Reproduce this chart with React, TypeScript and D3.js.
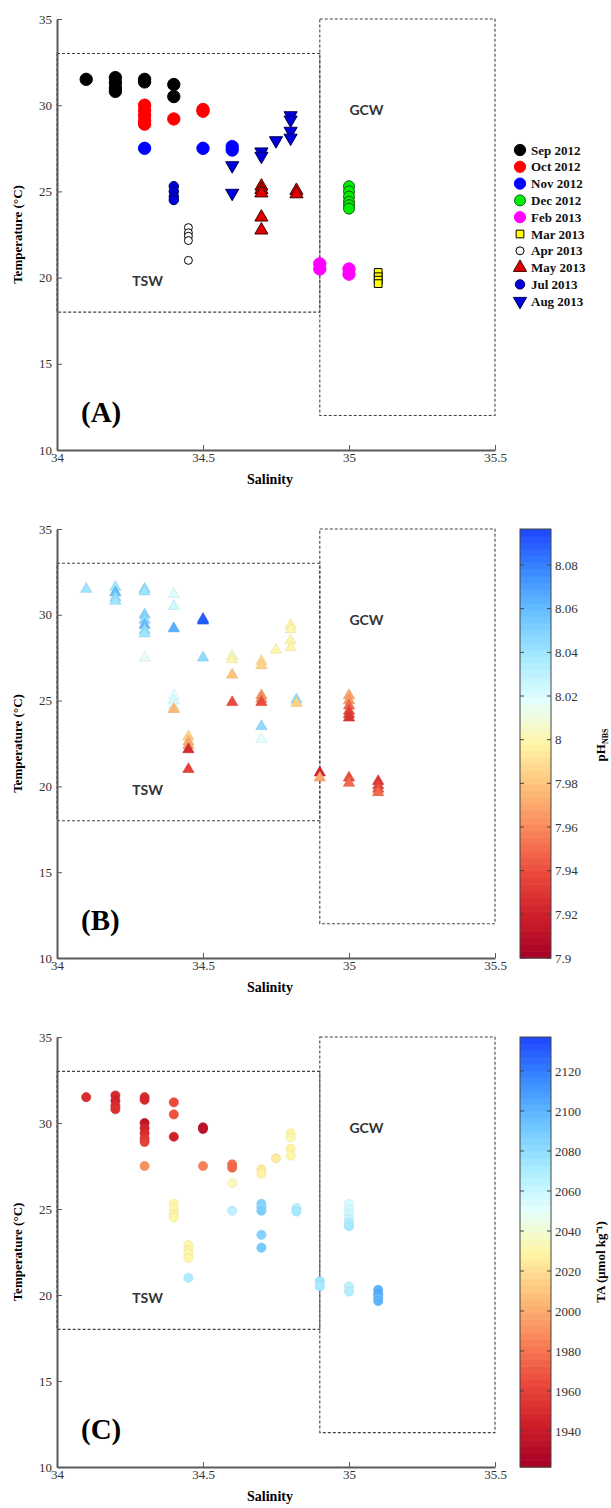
import { useEffect, useRef } from "react";
import * as d3 from "d3";

// legend categories (sampling months)
const months = ["Sep 2012", "Oct 2012", "Nov 2012", "Dec 2012", "Feb 2013", "Mar 2013", "Apr 2013", "May 2013", "Jul 2013", "Aug 2013"];

// samples (same T-S pairs in all of them)
const sampleMonth = [
  "Sep 2012", "Sep 2012", "Sep 2012", "Sep 2012", "Sep 2012", "Sep 2012", "Sep 2012", "Sep 2012", "Sep 2012",
  "Oct 2012", "Oct 2012", "Oct 2012", "Oct 2012", "Oct 2012", "Oct 2012", "Oct 2012", "Oct 2012",
  "Nov 2012", "Nov 2012", "Nov 2012", "Nov 2012",
  "Dec 2012", "Dec 2012", "Dec 2012", "Dec 2012", "Dec 2012", "Dec 2012",
  "Feb 2013", "Feb 2013", "Feb 2013", "Feb 2013",
  "Mar 2013", "Mar 2013", "Mar 2013", "Mar 2013",
  "Apr 2013", "Apr 2013", "Apr 2013", "Apr 2013", "Apr 2013",
  "May 2013", "May 2013", "May 2013", "May 2013", "May 2013", "May 2013", "May 2013",
  "Jul 2013", "Jul 2013", "Jul 2013", "Jul 2013",
  "Aug 2013", "Aug 2013", "Aug 2013", "Aug 2013", "Aug 2013", "Aug 2013", "Aug 2013", "Aug 2013", "Aug 2013",
];
const sampleSal = [
  34.1, 34.2, 34.2, 34.2, 34.2, 34.3, 34.3, 34.4, 34.4,
  34.3, 34.3, 34.3, 34.3, 34.3, 34.4, 34.5, 34.5,
  34.3, 34.5, 34.6, 34.6,
  35.0, 35.0, 35.0, 35.0, 35.0, 35.0,
  34.9, 34.9, 35.0, 35.0,
  35.1, 35.1, 35.1, 35.1,
  34.45, 34.45, 34.45, 34.45, 34.45,
  34.7, 34.7, 34.7, 34.7, 34.7, 34.82, 34.82,
  34.4, 34.4, 34.4, 34.4,
  34.6, 34.6, 34.7, 34.7, 34.75, 34.8, 34.8, 34.8, 34.8,
];
const sampleTemp = [
  31.5, 31.6, 31.3, 31.0, 30.8, 31.5, 31.35, 31.2, 30.5,
  30.0, 29.7, 29.4, 29.1, 28.9, 29.2, 29.65, 29.75,
  27.5, 27.5, 27.6, 27.4,
  25.3, 25.0, 24.7, 24.4, 24.2, 24.0,
  20.8, 20.5, 20.5, 20.2,
  20.3, 20.05, 19.85, 19.65,
  22.9, 22.6, 22.4, 22.15, 21.0,
  25.3, 25.1, 24.9, 23.5, 22.75, 25.05, 24.85,
  25.3, 25.0, 24.7, 24.5,
  26.5, 24.9, 27.3, 27.05, 27.95, 29.4, 29.15, 28.5, 28.1,
];
const samplePH = [
  8.04, 8.04, 8.06, 8.045, 8.04, 8.045, 8.04, 8.02, 8.025,
  8.05, 8.045, 8.06, 8.045, 8.04, 8.065, 8.09, 8.09,
  8.015, 8.045, 8.005, 8.0,
  7.97, 7.965, 7.95, 7.94, 7.935, 7.93,
  7.92, 7.97, 7.94, 7.95,
  7.93, 7.935, 7.94, 7.95,
  7.985, 7.975, 7.97, 7.925, 7.935,
  7.965, 7.96, 7.94, 8.045, 8.018, 8.045, 7.985,
  8.018, 8.022, 8.018, 7.975,
  7.98, 7.94, 7.99, 7.985, 8.0, 8.0, 8.0, 8.0, 8.0,
];
const sampleTA = [
  1950, 1948, 1945, 1950, 1952, 1950, 1948, 1965, 1968,
  1935, 1945, 1950, 1955, 1960, 1945, 1932, 1935,
  1990, 1985, 1978, 1975,
  2055, 2058, 2060, 2062, 2068, 2072,
  2075, 2072, 2065, 2068,
  2100, 2105, 2098, 2100,
  2030, 2028, 2032, 2030, 2070,
  2085, 2082, 2088, 2085, 2090, 2068, 2072,
  2030, 2032, 2028, 2030,
  2035, 2065, 2025, 2028, 2025, 2030, 2032, 2028, 2030,
];

const salTicks = [34, 34.5, 35, 35.5];
const tempTicks = [10, 15, 20, 25, 30, 35];
const pHTicks = [7.9, 7.92, 7.94, 7.96, 7.98, 8, 8.02, 8.04, 8.06, 8.08];
const taTicks = [1940, 1960, 1980, 2000, 2020, 2040, 2060, 2080, 2100, 2120];

// water mass boxes: name, salinity min/max, temperature min/max
const boxNames = ["TSW", "GCW"];
const boxSal = [[34, 34.9], [34.9, 35.5]];
const boxTemp = [[18, 33], [12, 35]];

const cmapStops = ["#a50026", "#cf1f2a", "#ec4a3d", "#f9875a", "#fdc07a", "#fff6a6", "#e4ffff", "#a6eaff", "#6bc4ff", "#3a8cff", "#1e46ff"];
const cmap = d3.piecewise(d3.interpolateRgb, cmapStops);

const monthStyle: Record<string, any> = {
  "Sep 2012": { shape: d3.symbolCircle, size: 120, fill: "#000", stroke: "#000", rot: 0 },
  "Oct 2012": { shape: d3.symbolCircle, size: 120, fill: "#ff0000", stroke: "#ff0000", rot: 0 },
  "Nov 2012": { shape: d3.symbolCircle, size: 120, fill: "#0000ff", stroke: "#0000ff", rot: 0 },
  "Dec 2012": { shape: d3.symbolCircle, size: 95, fill: "#00ee00", stroke: "#1a5c1a", rot: 0 },
  "Feb 2013": { shape: d3.symbolCircle, size: 120, fill: "#ff00ff", stroke: "#ff00ff", rot: 0 },
  "Mar 2013": { shape: d3.symbolSquare, size: 60, fill: "#ffff00", stroke: "#000", rot: 0 },
  "Apr 2013": { shape: d3.symbolCircle, size: 50, fill: "#fff", stroke: "#000", rot: 0 },
  "May 2013": { shape: d3.symbolTriangle, size: 75, fill: "#e00000", stroke: "#400000", rot: 0 },
  "Jul 2013": { shape: d3.symbolCircle, size: 70, fill: "#0000dd", stroke: "#000060", rot: 0 },
  "Aug 2013": { shape: d3.symbolTriangle, size: 75, fill: "#0000dd", stroke: "#000050", rot: 180 },
};

const panels = [
  { id: "(A)", top: 19, bottom: 450, kind: "month" },
  { id: "(B)", top: 529, bottom: 958, kind: "ph" },
  { id: "(C)", top: 1037, bottom: 1467, kind: "ta" },
];

const serif = "'Times New Roman', 'Liberation Serif', serif";
const sans = "Lato, 'Open Sans', sans-serif";

function styleAxis(g: any) {
  g.select(".domain").attr("stroke", "#5a5a5a").attr("stroke-width", 2);
  g.selectAll(".tick line").attr("stroke", "#5a5a5a");
  g.selectAll(".tick text").attr("font-family", serif).attr("font-size", 13).attr("fill", "#333");
}

function drawColorbar(svg: any, top: number, bottom: number, domain: number[], ticks: number[]) {
  const left = 520, right = 551;
  const cy = d3.scaleLinear().domain(domain).range([bottom, top]);
  const n = 64;
  const bands = d3.range(n);
  const h = (bottom - top) / n;
  svg.append("g").selectAll("rect").data(bands).join("rect")
    .attr("x", left).attr("width", right - left)
    .attr("y", (i: number) => bottom - (i + 1) * h).attr("height", h + 0.6)
    .attr("fill", (i: number) => cmap((i + 0.5) / n));
  svg.append("rect").attr("x", left).attr("y", top).attr("width", right - left).attr("height", bottom - top)
    .attr("fill", "none").attr("stroke", "#444").attr("stroke-width", 1);
  const tg = svg.append("g");
  ticks.forEach(t => {
    const yy = cy(t);
    tg.append("line").attr("x1", left).attr("x2", left + 4).attr("y1", yy).attr("y2", yy).attr("stroke", "#444");
    tg.append("line").attr("x1", right - 4).attr("x2", right).attr("y1", yy).attr("y2", yy).attr("stroke", "#444");
    tg.append("text").attr("x", right + 4).attr("y", yy).attr("dy", "0.35em")
      .attr("font-family", serif).attr("font-size", 13).attr("fill", "#333")
      .text(String(+t.toFixed(2)));
  });
}

function drawFigure(el: SVGSVGElement) {
  const svg = d3.select(el);
  svg.selectAll("*").remove();

  const x = d3.scaleLinear().domain([34, 35.5]).range([57, 495]);
  const samples = sampleMonth.map((m, i) => ({ m, s: sampleSal[i], t: sampleTemp[i], ph: samplePH[i], ta: sampleTA[i] }));
  const phScale = d3.scaleLinear().domain([7.9, 8.0965]).range([0, 1]).clamp(true);
  const taScale = d3.scaleLinear().domain([1922, 2137]).range([0, 1]).clamp(true);

  panels.forEach(p => {
    const y = d3.scaleLinear().domain([10, 35]).range([p.bottom, p.top]);
    const g = svg.append("g");

    // water mass boxes
    boxNames.forEach((name, i) => {
      g.append("rect")
        .attr("x", x(boxSal[i][0])).attr("y", y(boxTemp[i][1]))
        .attr("width", x(boxSal[i][1]) - x(boxSal[i][0]))
        .attr("height", y(boxTemp[i][0]) - y(boxTemp[i][1]))
        .attr("fill", "none").attr("stroke", "#444").attr("stroke-width", 1.1)
        .attr("stroke-dasharray", "3,2");
    });
    g.append("text").attr("x", x(35.06)).attr("y", y(29.7)).attr("text-anchor", "middle").attr("dy", "0.35em")
      .attr("font-family", sans).attr("font-weight", 700).attr("font-size", 14).attr("fill", "#333").text("GCW");
    g.append("text").attr("x", x(34.31)).attr("y", y(19.8)).attr("text-anchor", "middle").attr("dy", "0.35em")
      .attr("font-family", sans).attr("font-weight", 700).attr("font-size", 14).attr("fill", "#333").text("TSW");

    // points
    if (p.kind === "month") {
      g.append("g").selectAll("path").data(samples).join("path")
        .attr("d", (d: any) => d3.symbol(monthStyle[d.m].shape, monthStyle[d.m].size)())
        .attr("transform", (d: any) => `translate(${x(d.s)},${y(d.t)}) rotate(${monthStyle[d.m].rot})`)
        .attr("fill", (d: any) => monthStyle[d.m].fill)
        .attr("stroke", (d: any) => monthStyle[d.m].stroke)
        .attr("stroke-width", 1);
    } else if (p.kind === "ph") {
      g.append("g").selectAll("path").data(samples).join("path")
        .attr("d", d3.symbol(d3.symbolTriangle, 55)())
        .attr("transform", (d: any) => `translate(${x(d.s)},${y(d.t)})`)
        .attr("fill", (d: any) => cmap(phScale(d.ph)))
        .attr("stroke", (d: any) => d3.color(cmap(phScale(d.ph)))!.darker(0.3).formatHex())
        .attr("stroke-width", 0.6);
      drawColorbar(svg, p.top, p.bottom, [7.9, 8.0965], pHTicks);
    } else {
      g.append("g").selectAll("circle").data(samples).join("circle")
        .attr("cx", (d: any) => x(d.s)).attr("cy", (d: any) => y(d.t)).attr("r", 4.6)
        .attr("fill", (d: any) => cmap(taScale(d.ta)))
        .attr("stroke", (d: any) => d3.color(cmap(taScale(d.ta)))!.darker(0.2).formatHex())
        .attr("stroke-width", 0.6);
      drawColorbar(svg, p.top, p.bottom, [1922, 2137], taTicks);
    }

    // axes (ticks point inward)
    g.append("g").attr("transform", `translate(0,${p.bottom})`)
      .call(d3.axisBottom(x).tickValues(salTicks).tickSize(-5).tickSizeOuter(0).tickPadding(3).tickFormat(d3.format("")) as any)
      .call(styleAxis);
    g.append("g").attr("transform", `translate(${x(34)},0)`)
      .call(d3.axisLeft(y).tickValues(tempTicks).tickSize(-5).tickSizeOuter(0).tickPadding(5) as any)
      .call(styleAxis);

    // labels
    g.append("text").attr("x", 270).attr("y", p.bottom + 34).attr("text-anchor", "middle")
      .attr("font-family", serif).attr("font-weight", 700).attr("font-size", 14).text("Salinity");
    g.append("text").attr("transform", `translate(22,${(p.top + p.bottom) / 2}) rotate(-90)`)
      .attr("text-anchor", "middle").attr("font-family", serif).attr("font-weight", 700).attr("font-size", 13)
      .text("Temperature (°C)");
    g.append("text").attr("x", 81).attr("y", p.bottom - 28)
      .attr("font-family", serif).attr("font-weight", 700).attr("font-size", 29).text(p.id);
  });

  // legend for panel A
  const lg = svg.append("g");
  months.forEach((m, i) => {
    const st = monthStyle[m];
    const yy = 150 + i * 16.8;
    lg.append("path").attr("d", d3.symbol(st.shape, Math.min(st.size, 100))())
      .attr("transform", `translate(520,${yy}) rotate(${st.rot})`)
      .attr("fill", st.fill).attr("stroke", st.stroke);
    lg.append("text").attr("x", 531).attr("y", yy).attr("dy", "0.35em")
      .attr("font-family", serif).attr("font-weight", 700).attr("font-size", 13).attr("fill", "#111").text(m);
  });

  // colorbar titles on the right edge
  svg.append("text").attr("transform", "translate(605,745) rotate(-90)").attr("text-anchor", "middle")
    .attr("font-family", serif).attr("font-weight", 700).attr("font-size", 13)
    .text("pH").append("tspan").attr("font-size", 8).attr("dy", 3).text("NBS");
  svg.append("text").attr("transform", "translate(605,1262) rotate(-90)").attr("text-anchor", "middle")
    .attr("font-family", serif).attr("font-weight", 700).attr("font-size", 13)
    .text("TA (μmol kg⁻¹)");
}

export default function App() {
  const ref = useRef<SVGSVGElement>(null);
  useEffect(() => {
    if (ref.current) drawFigure(ref.current);
  }, []);
  return (
    <div style={{ position: "absolute", left: 0, top: 0, background: "#fff" }}>
      <svg ref={ref} width={611} height={1508} style={{ display: "block", background: "#fff" }} />
    </div>
  );
}
